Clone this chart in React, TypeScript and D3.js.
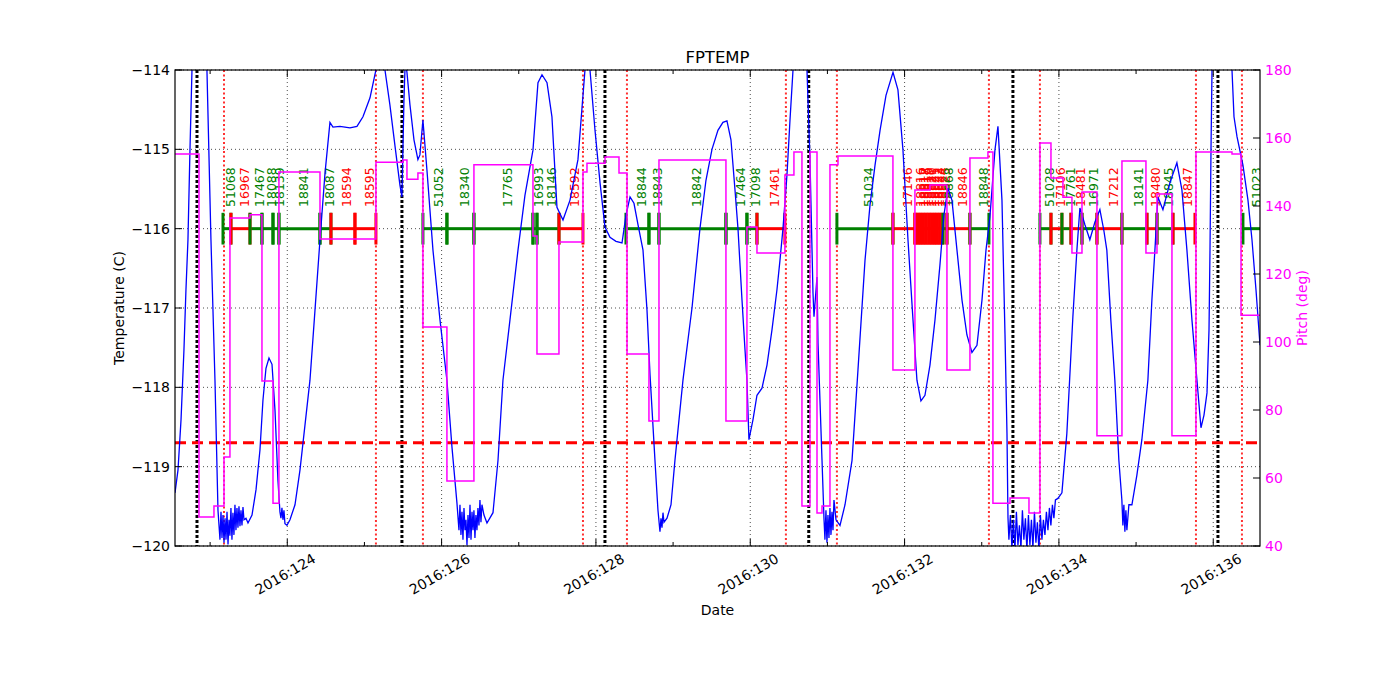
import * as d3 from 'd3';

// axis ranges and ticks
const dayDomain: [number, number] = [122.545, 136.606];
const dayTicks = [123, 124, 125, 126, 127, 128, 129, 130, 131, 132, 133, 134, 135, 136];
const tempTicks = [-120, -119, -118, -117, -116, -115, -114];
const pitchTicks = [40, 60, 80, 100, 120, 140, 160, 180];
const tempLimit = -118.7;
const barLevel = -116;

// event times (day of year)
const perigeeDays = [122.830, 125.486, 128.117, 130.758, 133.404, 136.061];
const radZoneDays = [123.180, 125.149, 125.758, 127.832, 128.402, 130.462, 131.123, 133.093, 133.754, 135.776, 136.372];

// observations
const obsIds = [
  '51068', '16967', '17467', '18088', '18139', '18841', '18087', '18594', '18595',
  '51052', '18340', '17765', '16993', '18146', '18592',
  '18844', '18843', '18842', '17464', '17098', '17461',
  '51034', '17146', '18816', '18817', '18818', '18819', '18820', '18821', '18822', '18823', '18824', '18825',
  '18868', '18846', '18848',
  '51028', '17106', '17761', '18481', '16971', '17212', '18141', '18480', '18845', '18847', '51023',
];
const obsStart = [
  123.167, 123.270, 123.517, 123.672, 123.815, 123.892, 124.424, 124.566, 124.877,
  125.758, 126.069, 126.419, 127.184, 127.236, 127.521,
  128.389, 128.687, 128.817, 129.685, 129.957, 130.087,
  131.123, 131.849, 132.134, 132.170, 132.206, 132.243, 132.279, 132.315, 132.351, 132.388, 132.424, 132.460,
  132.497, 132.549, 132.847,
  133.754, 133.897, 134.039, 134.156, 134.299, 134.493, 134.817, 135.141, 135.271, 135.478, 136.385,
];
const obsStop = [
  123.270, 123.517, 123.672, 123.815, 123.892, 124.424, 124.566, 124.877, 125.149,
  126.069, 126.419, 127.184, 127.236, 127.521, 127.832,
  128.687, 128.817, 129.685, 129.957, 130.087, 130.449,
  131.849, 132.134, 132.170, 132.206, 132.243, 132.279, 132.315, 132.351, 132.388, 132.424, 132.460, 132.497,
  132.549, 132.847, 133.093,
  133.897, 134.039, 134.156, 134.299, 134.493, 134.817, 135.141, 135.271, 135.478, 135.763, 136.631,
];
// 'ok' = green, 'hot' = red
const obsKind = [
  'ok', 'hot', 'ok', 'ok', 'ok', 'ok', 'ok', 'hot', 'hot',
  'ok', 'ok', 'ok', 'ok', 'ok', 'hot',
  'ok', 'ok', 'ok', 'ok', 'ok', 'hot',
  'ok', 'hot', 'hot', 'hot', 'hot', 'hot', 'hot', 'hot', 'hot', 'hot', 'hot', 'hot',
  'ok', 'hot', 'ok',
  'ok', 'hot', 'ok', 'hot', 'ok', 'hot', 'ok', 'hot', 'ok', 'hot', 'ok',
];

// FPTEMP (day, degC)
const fptemp: [number, number][] = [
  [122.545, -119.33], [122.584, -119.04], [122.623, -118.41], [122.661, -117.53], [122.687, -116.77],
  [122.713, -116.14], [122.739, -115.01], [122.765, -114.00], [122.856, -113.2], [122.959, -114.00],
  [123.011, -116.14], [123.063, -117.91], [123.102, -119.55],
  [123.128, -119.92], [123.141, -119.57], [123.154, -119.90], [123.167, -119.61], [123.180, -119.96],
  [123.193, -119.65], [123.206, -119.92], [123.219, -119.57], [123.232, -119.98], [123.245, -119.67],
  [123.257, -119.87], [123.270, -119.52], [123.283, -119.92], [123.296, -119.58], [123.309, -119.86],
  [123.322, -119.48], [123.335, -119.80], [123.348, -119.52], [123.361, -119.77], [123.374, -119.50],
  [123.387, -119.75], [123.400, -119.55], [123.413, -119.74], [123.426, -119.51], [123.439, -119.67],
  [123.465, -119.65], [123.491, -119.71], [123.543, -119.61], [123.595, -119.29], [123.646, -118.79],
  [123.685, -118.16], [123.724, -117.76], [123.763, -117.63], [123.802, -117.71], [123.841, -118.29],
  [123.879, -119.17], [123.905, -119.57], [123.918, -119.65], [123.931, -119.52], [123.944, -119.67],
  [123.957, -119.55], [123.970, -119.72], [123.996, -119.74], [124.035, -119.67], [124.100, -119.48],
  [124.165, -119.04], [124.229, -118.48], [124.294, -117.91], [124.359, -117.03], [124.424, -116.14],
  [124.489, -115.30], [124.553, -114.66], [124.592, -114.72], [124.683, -114.71], [124.812, -114.73],
  [124.903, -114.71], [124.981, -114.59], [125.072, -114.35], [125.162, -113.94], [125.214, -113.75],
  [125.266, -114.00], [125.330, -114.44], [125.395, -114.95], [125.460, -115.45], [125.486, -115.60],
  [125.512, -114.38], [125.525, -114.00], [125.538, -113.95], [125.551, -114.03], [125.590, -114.44],
  [125.642, -114.88], [125.693, -115.13], [125.719, -115.07], [125.758, -114.63], [125.810, -115.26],
  [125.888, -116.27], [125.979, -117.15], [126.069, -117.91], [126.134, -118.75], [126.199, -119.46],
  [126.225, -119.80], [126.238, -119.48], [126.251, -119.86], [126.264, -119.57], [126.277, -119.92],
  [126.290, -119.52], [126.303, -119.80], [126.316, -119.67], [126.329, -119.99], [126.342, -119.61],
  [126.355, -119.90], [126.368, -119.48], [126.381, -119.92], [126.394, -119.57], [126.407, -119.80],
  [126.419, -119.55], [126.432, -119.90], [126.445, -119.61], [126.458, -119.80], [126.471, -119.52],
  [126.484, -119.74], [126.497, -119.42], [126.510, -119.70], [126.523, -119.48], [126.549, -119.61],
  [126.588, -119.71], [126.666, -119.58], [126.731, -118.92], [126.795, -117.91], [126.886, -117.15],
  [126.990, -116.27], [127.080, -115.58], [127.184, -115.01], [127.249, -114.16], [127.301, -114.06],
  [127.366, -114.16], [127.430, -114.59], [127.495, -115.73], [127.573, -115.89], [127.664, -115.64],
  [127.767, -115.13], [127.858, -114.00], [127.897, -113.85], [127.923, -114.00], [127.988, -114.76],
  [128.053, -115.42], [128.117, -115.98], [128.182, -116.11], [128.260, -116.16], [128.338, -116.18],
  [128.390, -115.83], [128.442, -115.60], [128.493, -115.68], [128.545, -115.95], [128.610, -116.27],
  [128.662, -117.03], [128.701, -117.84], [128.765, -118.92], [128.804, -119.55], [128.830, -119.82],
  [128.843, -119.65], [128.856, -119.77], [128.869, -119.58], [128.882, -119.70], [128.921, -119.65],
  [128.973, -119.48], [129.024, -118.92], [129.128, -117.91], [129.193, -117.40], [129.245, -117.00],
  [129.348, -116.00], [129.426, -115.39], [129.504, -115.00], [129.581, -114.76], [129.646, -114.66],
  [129.698, -114.64], [129.750, -114.88], [129.802, -115.51], [129.841, -116.00], [129.893, -116.90],
  [129.932, -117.53], [129.957, -117.91], [129.983, -118.66], [130.035, -118.41], [130.087, -118.10],
  [130.152, -118.01], [130.217, -117.72], [130.281, -117.28], [130.346, -116.77], [130.385, -116.40],
  [130.424, -116.00], [130.476, -115.32], [130.515, -114.63], [130.554, -114.00], [130.645, -112.8],
  [130.735, -114.00], [130.774, -115.13], [130.813, -116.81], [130.826, -117.11], [130.865, -116.61],
  [130.878, -117.44], [130.930, -118.92], [130.956, -119.67], [130.968, -119.92], [130.981, -119.55],
  [130.994, -119.96], [131.007, -119.61], [131.020, -119.90], [131.033, -119.52], [131.046, -119.86],
  [131.059, -119.57], [131.072, -119.80], [131.085, -119.42], [131.111, -119.67], [131.163, -119.74],
  [131.228, -119.48], [131.319, -118.92], [131.396, -117.78], [131.487, -116.40], [131.552, -115.70],
  [131.617, -115.20], [131.682, -114.76], [131.759, -114.32], [131.850, -114.03], [131.914, -114.25],
  [131.979, -115.01], [132.044, -116.14], [132.109, -117.15], [132.160, -117.91], [132.212, -118.17],
  [132.264, -118.10], [132.329, -117.72], [132.394, -117.15], [132.458, -116.46], [132.510, -115.83],
  [132.562, -115.49], [132.614, -115.64], [132.679, -116.27], [132.744, -116.90], [132.808, -117.34],
  [132.873, -117.56], [132.938, -117.47], [133.003, -116.90], [133.055, -116.27], [133.106, -115.85],
  [133.171, -115.01], [133.210, -114.71], [133.262, -115.64], [133.301, -117.32], [133.327, -118.58],
  [133.340, -119.64],
  [133.352, -119.92], [133.371, -119.61], [133.391, -120.03], [133.410, -119.67], [133.430, -120.05],
  [133.449, -119.57], [133.469, -119.99], [133.488, -119.74], [133.508, -120.03], [133.527, -119.55],
  [133.546, -119.92], [133.566, -119.65], [133.585, -120.05], [133.605, -119.61], [133.624, -119.99],
  [133.644, -119.67], [133.663, -120.03], [133.683, -119.57], [133.702, -119.96], [133.721, -119.70],
  [133.741, -120.05], [133.760, -119.61], [133.780, -119.92], [133.799, -119.67], [133.819, -119.86],
  [133.838, -119.57], [133.858, -119.80], [133.877, -119.52], [133.896, -119.74], [133.916, -119.48],
  [133.935, -119.65], [133.955, -119.42],
  [133.987, -119.40], [134.039, -119.33], [134.103, -118.58], [134.181, -117.11], [134.233, -116.27],
  [134.272, -115.74], [134.337, -115.95], [134.401, -116.14], [134.466, -115.92], [134.531, -115.76],
  [134.582, -116.02], [134.621, -116.27], [134.673, -117.15], [134.725, -117.91], [134.777, -118.92],
  [134.816, -119.42], [134.829, -119.74], [134.842, -119.48], [134.855, -119.82], [134.868, -119.55],
  [134.881, -119.80], [134.907, -119.48], [134.946, -119.48], [135.010, -119.11], [135.075, -118.66],
  [135.153, -117.91], [135.205, -116.90], [135.244, -116.27], [135.283, -115.60], [135.348, -115.76],
  [135.439, -115.42], [135.529, -115.17], [135.594, -115.51], [135.659, -116.27], [135.724, -117.15],
  [135.789, -117.91], [135.841, -118.51], [135.880, -118.35], [135.919, -118.07], [135.945, -117.28],
  [135.958, -116.27], [135.971, -115.01], [135.984, -114.00], [136.114, -112.8], [136.243, -114.00],
  [136.269, -114.59], [136.308, -114.84], [136.385, -115.20], [136.450, -115.64], [136.502, -116.14],
  [136.554, -116.77], [136.606, -117.47],
];

// Pitch (day, deg), held until next sample
const pitch: [number, number][] = [
  [122.545, 155.3], [122.856, 48.5], [123.050, 51.8], [123.180, 66.2], [123.257, 136.5],
  [123.517, 137.4], [123.672, 88.5], [123.815, 52.6], [123.892, 150.0], [124.424, 130.3],
  [125.149, 152.9], [125.499, 153.5], [125.551, 147.9], [125.693, 149.7], [125.758, 104.4],
  [126.069, 59.1], [126.419, 152.1], [127.184, 131.2], [127.236, 96.5], [127.521, 129.4],
  [127.832, 150.0], [127.884, 152.6], [128.118, 154.4], [128.299, 149.7], [128.403, 96.5],
  [128.687, 76.8], [128.817, 153.5], [129.685, 76.8], [129.957, 133.8], [130.087, 126.2],
  [130.449, 149.1], [130.566, 155.9], [130.670, 51.8], [130.774, 155.9], [130.865, 49.7],
  [130.930, 51.8], [131.033, 152.1], [131.137, 154.7], [131.849, 91.8], [132.134, 144.7],
  [132.329, 146.2], [132.549, 91.8], [132.847, 154.1], [133.080, 155.9], [133.145, 52.6],
  [133.366, 54.1], [133.612, 49.7], [133.754, 158.5], [133.897, 148.2], [134.052, 142.6],
  [134.169, 126.2], [134.299, 144.1], [134.493, 72.4], [134.817, 153.2], [135.128, 126.2],
  [135.271, 143.5], [135.465, 72.4], [135.776, 155.9], [136.243, 155.3], [136.360, 107.9],
  [136.606, 107.9],
];

const font = 'DejaVu Sans, sans-serif';
const kindColor: Record<string, string> = { ok: '#008000', hot: '#ff0000' };

export default function App() {
  const width = 1400;
  const height = 700;
  const m = { left: 175, right: 1260, top: 70, bottom: 546 };

  const x = d3.scaleLinear().domain(dayDomain).range([m.left, m.right]);
  const yT = d3.scaleLinear().domain([-120, -114]).range([m.bottom, m.top]);
  const yP = d3.scaleLinear().domain([40, 180]).range([m.bottom, m.top]);

  const tempLine = d3.line<[number, number]>().x(d => x(d[0])).y(d => yT(d[1]));
  const pitchLine = d3.line<[number, number]>().x(d => x(d[0])).y(d => yP(d[1])).curve(d3.curveStepAfter);

  const barY = yT(barLevel);
  const markTop = yT(barLevel + 0.2);
  const markBot = yT(barLevel - 0.2);

  return (
    <svg width={width} height={height} style={{ position: 'absolute', left: 0, top: 0, background: '#fff' }} fontFamily={font}>
      <defs>
        <clipPath id="plot">
          <rect x={m.left} y={m.top} width={m.right - m.left} height={m.bottom - m.top} />
        </clipPath>
      </defs>

      {/* grid */}
      {dayTicks.filter(d => d % 2 === 0).map(d => (
        <line key={'gx' + d} x1={x(d)} x2={x(d)} y1={m.top} y2={m.bottom} stroke="#000" strokeWidth={0.7} strokeDasharray="1,3" />
      ))}
      {tempTicks.map(t => (
        <line key={'gy' + t} x1={m.left} x2={m.right} y1={yT(t)} y2={yT(t)} stroke="#000" strokeWidth={0.7} strokeDasharray="1,3" />
      ))}

      <g clipPath="url(#plot)">
        {perigeeDays.map(d => (
          <line key={'p' + d} x1={x(d)} x2={x(d)} y1={m.top} y2={m.bottom} stroke="#000" strokeWidth={3} strokeDasharray="3,2" />
        ))}
        {radZoneDays.map(d => (
          <line key={'r' + d} x1={x(d)} x2={x(d)} y1={m.top} y2={m.bottom} stroke="#ff3030" strokeWidth={2} strokeDasharray="2,2.5" />
        ))}
        <line x1={m.left} x2={m.right} y1={yT(tempLimit)} y2={yT(tempLimit)} stroke="#ff0000" strokeWidth={3} strokeDasharray="11,6" />

        {/* observation bars */}
        {obsIds.map((id, i) => (
          <line key={'b' + i} x1={x(obsStart[i])} x2={x(obsStop[i])} y1={barY} y2={barY} stroke={kindColor[obsKind[i]]} strokeWidth={3} />
        ))}
        {obsIds.map((id, i) => (
          <g key={'m' + i} stroke={kindColor[obsKind[i]]} strokeWidth={3}>
            <line x1={x(obsStart[i])} x2={x(obsStart[i])} y1={markTop} y2={markBot} />
            <line x1={x(obsStop[i])} x2={x(obsStop[i])} y1={markTop} y2={markBot} />
          </g>
        ))}
        {obsIds.map((id, i) => {
          const cx = x((obsStart[i] + obsStop[i]) / 2) + 4;
          return (
            <text key={'t' + i} transform={`translate(${cx},207) rotate(-90)`} dominantBaseline="central" fontSize={12.5} fill={kindColor[obsKind[i]]}>
              {id}
            </text>
          );
        })}

        <path d={tempLine(fptemp) ?? ''} fill="none" stroke="#0000ff" strokeWidth={1.3} />
        <path d={pitchLine(pitch) ?? ''} fill="none" stroke="#ff00ff" strokeWidth={1.5} />
      </g>

      {/* spines */}
      <rect x={m.left} y={m.top} width={m.right - m.left} height={m.bottom - m.top} fill="none" stroke="#000" strokeWidth={1.2} />

      {/* x ticks */}
      {dayTicks.map(d => {
        const len = d % 2 === 0 ? 7 : 4;
        return (
          <g key={'xt' + d} stroke="#000" strokeWidth={1}>
            <line x1={x(d)} x2={x(d)} y1={m.bottom} y2={m.bottom - len} />
            <line x1={x(d)} x2={x(d)} y1={m.top} y2={m.top + len} />
          </g>
        );
      })}
      {dayTicks.filter(d => d % 2 === 0).map(d => (
        <text key={'xl' + d} transform={`translate(${x(d) - 2},574) rotate(-30)`} textAnchor="middle" dominantBaseline="central" fontSize={14}>
          {`2016:${d}`}
        </text>
      ))}

      {/* left axis */}
      {tempTicks.map(t => (
        <g key={'lt' + t}>
          <line x1={m.left} x2={m.left + 7} y1={yT(t)} y2={yT(t)} stroke="#000" />
          <text x={m.left - 5} y={yT(t)} textAnchor="end" dominantBaseline="central" fontSize={14}>
            {`\u2212${Math.abs(t)}`}
          </text>
        </g>
      ))}

      {/* right axis */}
      {pitchTicks.map(p => (
        <g key={'rt' + p}>
          <line x1={m.right} x2={m.right - 7} y1={yP(p)} y2={yP(p)} stroke="#000" />
          <text x={m.right + 5} y={yP(p)} dominantBaseline="central" fontSize={14} fill="#ff00ff">
            {p}
          </text>
        </g>
      ))}

      <text x={(m.left + m.right) / 2} y={57} textAnchor="middle" dominantBaseline="central" fontSize={16.5}>FPTEMP</text>
      <text x={(m.left + m.right) / 2} y={610} textAnchor="middle" dominantBaseline="central" fontSize={14}>Date</text>
      <text transform={`translate(119,${(m.top + m.bottom) / 2}) rotate(-90)`} textAnchor="middle" dominantBaseline="central" fontSize={14}>Temperature (C)</text>
      <text transform={`translate(1302,${(m.top + m.bottom) / 2}) rotate(-90)`} textAnchor="middle" dominantBaseline="central" fontSize={14} fill="#ff00ff">Pitch (deg)</text>
    </svg>
  );
}
